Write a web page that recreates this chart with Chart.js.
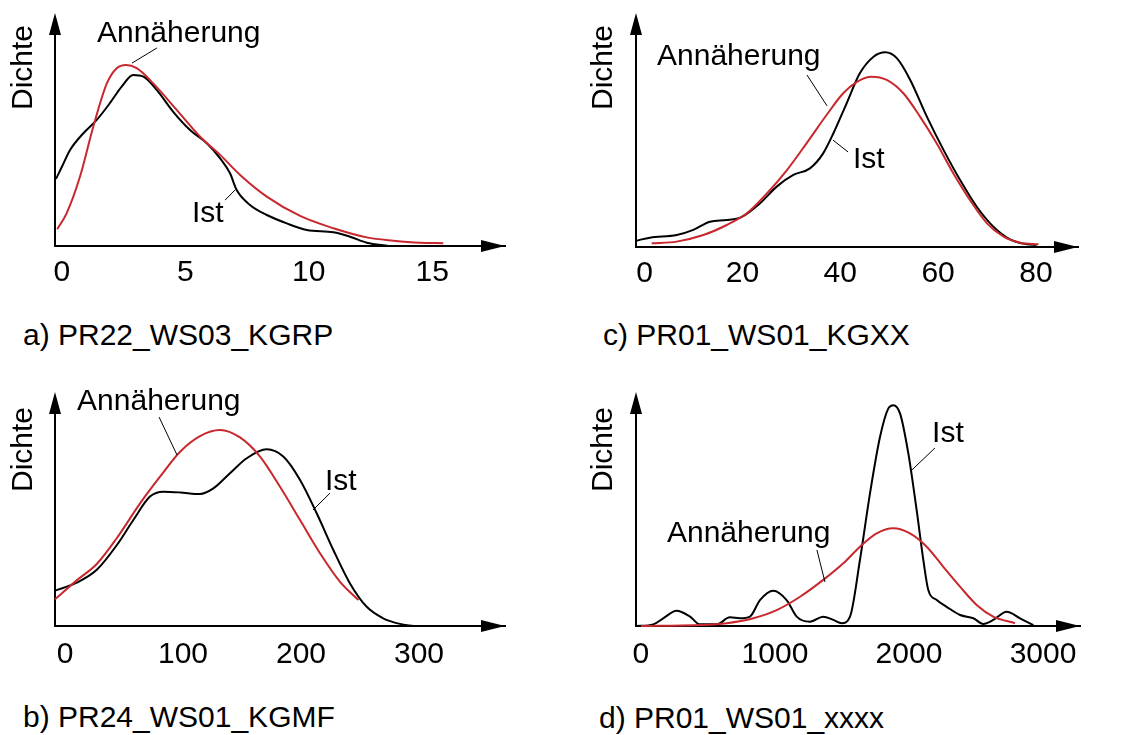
<!DOCTYPE html>
<html>
<head>
<meta charset="utf-8">
<script src="https://cdn.jsdelivr.net/npm/chart.js@4.4.0/dist/chart.umd.min.js"></script>
<style>
  body { margin: 0; background: #fff; width: 1129px; height: 735px; position: relative; overflow: hidden;
         font-family: "Liberation Sans", Arial, sans-serif; }
  canvas { position: absolute; }
  .cap { position: absolute; font-size: 30px; line-height: 30px; color: #000; white-space: nowrap; }
</style>
</head>
<body>
<canvas id="chartA" width="560" height="300" style="left:0;top:0"></canvas>
<canvas id="chartC" width="569" height="300" style="left:560px;top:0"></canvas>
<canvas id="chartB" width="560" height="320" style="left:0;top:360px"></canvas>
<canvas id="chartD" width="569" height="320" style="left:560px;top:360px"></canvas>
<div class="cap" style="left:23px;top:320px">a) PR22_WS03_KGRP</div>
<div class="cap" style="left:603px;top:320px">c) PR01_WS01_KGXX</div>
<div class="cap" style="left:23px;top:702px">b) PR24_WS01_KGMF</div>
<div class="cap" style="left:599px;top:703px">d) PR01_WS01_xxxx</div>
<script>
const FONT = '"Liberation Sans", Arial, sans-serif';
const RED = '#c8282d';

// a) PR22_WS03_KGRP  (density in relative units)
const aTicks = [0, 5, 10, 15];
const aIstX = [-0.24, 0.0, 0.33, 0.87, 1.41, 1.95, 2.42, 2.89, 3.3, 3.84, 4.51, 5.19, 5.87, 6.41, 6.81, 7.08, 7.62, 8.3, 9.11, 9.92, 11.0, 11.67, 12.35, 13.23];
const aIstY = [28.8, 34.0, 41.2, 48.4, 54.1, 61.4, 68.4, 73.4, 72.7, 67.0, 57.6, 49.8, 44.1, 37.6, 31.2, 24.0, 17.6, 13.3, 9.7, 6.9, 5.9, 4.0, 1.4, 0];
const aFitX = [-0.19, 0.19, 0.73, 1.27, 1.82, 2.22, 2.6, 3.03, 3.7, 4.65, 5.6, 6.41, 7.22, 8.3, 9.65, 11.0, 12.35, 13.43, 14.51, 15.45];
const aFitY = [7.2, 14.0, 29.7, 51.2, 69.8, 76.3, 77.7, 76.3, 69.8, 58.4, 46.9, 39.1, 30.5, 21.2, 12.9, 7.6, 3.7, 2.3, 1.4, 1.2];

// c) PR01_WS01_KGXX
const cTicks = [0, 20, 40, 60, 80];
const cIstX = [-1.76, 1.1, 6.56, 9.96, 13.37, 16.79, 19.86, 23.6, 27.0, 30.4, 33.8, 36.5, 38.6, 41.3, 44.0, 46.8, 49.2, 51.6, 54.3, 57.7, 61.1, 64.5, 67.9, 71.3, 74.7, 78.1, 80.1];
const cIstY = [2.7, 4.0, 5.1, 7.3, 10.8, 11.5, 12.9, 18.7, 25.8, 30.8, 33.6, 40.0, 48.6, 61.4, 74.2, 81.3, 83.2, 80.6, 71.4, 55.7, 41.5, 28.6, 17.2, 8.7, 3.3, 1.2, 0.9];
const cFitX = [1.45, 6.56, 12.0, 16.8, 20.9, 25.0, 29.1, 33.1, 37.2, 40.6, 43.4, 46.4, 49.5, 52.9, 56.3, 59.7, 63.1, 66.5, 70.0, 73.4, 76.8, 80.5];
const cFitY = [1.6, 2.3, 5.1, 9.4, 14.4, 22.9, 32.9, 44.3, 56.4, 65.7, 70.6, 72.8, 71.4, 65.7, 55.7, 44.3, 31.5, 20.1, 10.1, 4.4, 1.8, 1.2];

// b) PR24_WS01_KGMF
const bTicks = [0, 100, 200, 300];
const bIstX = [-8.5, 9.9, 26.9, 43.8, 57.9, 72.0, 83.3, 97.5, 114.4, 125.7, 139.8, 154.0, 170.9, 185.0, 199.2, 213.3, 227.4, 241.5, 255.7, 269.7, 283.9, 295.2];
const bIstY = [15.1, 18.5, 24.0, 34.5, 45.3, 55.3, 57.4, 57.1, 56.4, 58.8, 65.3, 71.7, 75.5, 72.4, 62.4, 48.2, 32.5, 18.2, 8.2, 3.3, 0.9, 0];
const bFitX = [-8.5, 9.9, 26.9, 43.8, 63.6, 80.5, 97.5, 114.4, 131.4, 148.3, 165.3, 182.2, 199.2, 216.1, 233.1, 248.6];
const bFitY = [11.4, 19.5, 26.5, 37.5, 52.4, 63.8, 74.5, 81.2, 83.8, 80.6, 72.4, 59.5, 45.3, 31.1, 18.9, 11.1];

// d) PR01_WS01_xxxx
const dTicks = [0, 1000, 2000, 3000];
const dIstX = [-37, 92, 166, 266, 366, 440, 565, 664, 739, 813, 888, 987, 1087, 1162, 1261, 1360, 1435, 1498, 1560, 1634, 1709, 1784, 1846, 1883, 1933, 1995, 2057, 2107, 2144, 2207, 2281, 2381, 2480, 2554, 2629, 2729, 2828, 2928];
const dIstY = [0, 0.7, 3.3, 6.5, 4.0, 0.7, 0.7, 3.7, 3.3, 4.0, 11.1, 15.1, 11.1, 4.0, 1.8, 4.0, 2.6, 1.2, 4.0, 28.2, 56.7, 80.9, 93.0, 94.4, 90.9, 73.8, 49.6, 28.2, 15.4, 11.1, 8.2, 4.7, 3.3, 0.9, 2.6, 6.1, 3.3, 0.4];
const dFitX = [0, 142, 440, 640, 838, 1013, 1187, 1360, 1510, 1634, 1759, 1883, 2007, 2132, 2256, 2381, 2505, 2629, 2791];
const dFitY = [0, 0.1, 0.4, 1.2, 3.3, 6.8, 12.5, 19.7, 26.8, 33.9, 39.6, 41.8, 39.6, 33.9, 25.3, 16.8, 9.0, 4.0, 1.2];

Chart.defaults.font.family = FONT;

const toPoints = (xs, ys) => xs.map((x, i) => ({x: x, y: ys[i]}));

/**
 * Filled arrow heads at the ends of both axes.
 * */
const axisArrows = {
  id: 'axisArrows',
  afterDraw(chart) {
    const {ctx, chartArea: a} = chart;
    const tipY = chart.options.plugins.axisArrows.tipY;
    ctx.save();
    ctx.fillStyle = '#000';
    ctx.beginPath();
    ctx.moveTo(a.left, tipY);
    ctx.lineTo(a.left - 6, tipY + 22);
    ctx.lineTo(a.left + 6, tipY + 22);
    ctx.closePath();
    ctx.fill();
    ctx.beginPath();
    ctx.moveTo(a.right, a.bottom);
    ctx.lineTo(a.right - 24, a.bottom - 6);
    ctx.lineTo(a.right - 24, a.bottom + 6);
    ctx.closePath();
    ctx.fill();
    ctx.restore();
  }
};

/**
 * Curve names with thin leader lines, placed in data coordinates.
 * */
const callouts = {
  id: 'callouts',
  afterDatasetsDraw(chart) {
    const {ctx, scales: {x, y}} = chart;
    const items = chart.options.plugins.callouts.items;
    ctx.save();
    ctx.fillStyle = '#000';
    ctx.strokeStyle = '#000';
    ctx.lineWidth = 1;
    ctx.font = '30px ' + FONT;
    ctx.textAlign = 'left';
    ctx.textBaseline = 'alphabetic';
    items.forEach(it => {
      ctx.fillText(it.text, x.getPixelForValue(it.x), y.getPixelForValue(it.y));
      ctx.beginPath();
      ctx.moveTo(x.getPixelForValue(it.line[0]), y.getPixelForValue(it.line[1]));
      ctx.lineTo(x.getPixelForValue(it.line[2]), y.getPixelForValue(it.line[3]));
      ctx.stroke();
    });
    ctx.restore();
  }
};

/**
 * Build one density panel.
 * */
const makePanel = function (canvasId, p) {
  const line = (label, xs, ys, color) => ({
    label: label,
    data: toPoints(xs, ys),
    borderColor: color,
    borderWidth: 2,
    pointRadius: 0,
    fill: false,
    clip: false,
    cubicInterpolationMode: 'monotone'
  });
  return new Chart(document.getElementById(canvasId), {
    type: 'line',
    data: {
      datasets: [
        line('Annäherung', p.fitX, p.fitY, RED),
        line('Ist', p.istX, p.istY, '#000')
      ]
    },
    options: {
      responsive: false,
      animation: false,
      events: [],
      layout: {padding: {top: p.top, right: p.right, left: 0, bottom: 0}},
      plugins: {
        legend: {display: false},
        tooltip: {enabled: false},
        axisArrows: {tipY: p.tipY},
        callouts: {items: p.notes}
      },
      scales: {
        x: {
          type: 'linear',
          min: p.xMin,
          max: p.xMax,
          grid: {display: false, drawTicks: false},
          border: {display: true, color: '#000', width: 2},
          ticks: {
            color: '#000',
            font: {size: 30},
            padding: p.tickPad,
            autoSkip: false,
            maxRotation: 0,
            callback: v => String(v)
          },
          afterBuildTicks: s => { s.ticks = p.ticks.map(v => ({value: v})); },
          afterFit: s => { s.height = p.xHeight; }
        },
        y: {
          type: 'linear',
          min: 0,
          max: p.yMax,
          grid: {display: false, drawTicks: false},
          border: {display: true, color: '#000', width: 2},
          ticks: {display: false},
          title: {
            display: true,
            text: 'Dichte',
            align: 'end',
            color: '#000',
            font: {size: 30},
            padding: {top: p.titlePad, bottom: 0}
          },
          afterFit: s => { s.width = p.left; }
        }
      }
    },
    plugins: [axisArrows, callouts]
  });
}

makePanel('chartA', {
  istX: aIstX, istY: aIstY, fitX: aFitX, fitY: aFitY, ticks: aTicks,
  xMin: -0.28, xMax: 17.95, yMax: 94.85,
  left: 55, right: 55, top: 25, xHeight: 54, tipY: 13, tickPad: 9, titlePad: 6,
  notes: [
    {text: 'Annäherung', x: 1.42, y: 87.6, line: [3.85, 85.0, 2.84, 78.5]},
    {text: 'Ist', x: 5.27, y: 10.3, line: [6.61, 19.7, 7.01, 24.0]}
  ]
});

makePanel('chartC', {
  istX: cIstX, istY: cIstY, fitX: cFitX, fitY: cFitY, ticks: cTicks,
  xMin: -1.76, xMax: 88.6, yMax: 94.87,
  left: 76, right: 51, top: 25, xHeight: 53, tipY: 13, tickPad: 9, titlePad: 26,
  notes: [
    {text: 'Annäherung', x: 2.54, y: 77.8, line: [33.2, 73.5, 37.3, 60.3]},
    {text: 'Ist', x: 42.6, y: 33.8, line: [41.6, 40.6, 38.5, 45.7]}
  ]
});

makePanel('chartB', {
  istX: bIstX, istY: bIstY, fitX: bFitX, fitY: bFitY, ticks: bTicks,
  xMin: -8.5, xMax: 372.9, yMax: 93.6,
  left: 55, right: 55, top: 47, xHeight: 54, tipY: 32, tickPad: 11, titlePad: 6,
  notes: [
    {text: 'Annäherung', x: 10.2, y: 92.3, line: [79.7, 89.3, 94.9, 73.1]},
    {text: 'Ist', x: 220.3, y: 58.1, line: [224.6, 56.8, 210.2, 49.6]}
  ]
});

makePanel('chartD', {
  istX: dIstX, istY: dIstY, fitX: dFitX, fitY: dFitY, ticks: dTicks,
  xMin: -37, xMax: 3276, yMax: 93.6,
  left: 76, right: 49, top: 47, xHeight: 54, tipY: 32, tickPad: 11, titlePad: 26,
  notes: [
    {text: 'Annäherung', x: 194, y: 35.9, line: [1313, 32.5, 1373, 18.8]},
    {text: 'Ist', x: 2172, y: 78.6, line: [2194, 76.1, 2022, 66.7]}
  ]
});
</script>
</body>
</html>
